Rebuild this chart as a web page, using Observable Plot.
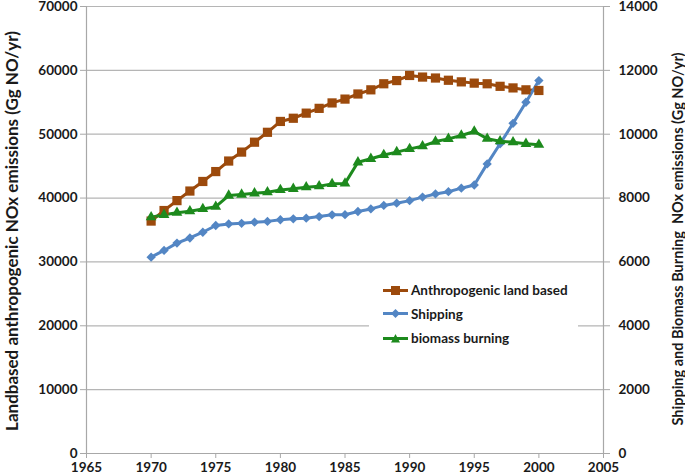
<!DOCTYPE html>
<html><head><meta charset="utf-8">
<script src="https://cdn.jsdelivr.net/npm/d3@7"></script>
<script src="https://cdn.jsdelivr.net/npm/@observablehq/plot@0.6"></script>
<style>
body{margin:0;background:#fff;}
#wrap{position:relative;width:685px;height:476px;font-family:Lato,sans-serif;}
#wrap svg{overflow:visible;}
#legend{position:absolute;left:369px;top:281px;width:209px;height:85px;background:#fff;}
.row{position:absolute;left:14px;height:20px;display:flex;align-items:center;font-weight:bold;font-size:13.5px;color:#1a1a1a;white-space:nowrap;}
.row svg{margin-right:3px;}
</style></head><body><div id="wrap"></div>
<script>
const years = [1970,1971,1972,1973,1974,1975,1976,1977,1978,1979,1980,1981,1982,1983,1984,1985,1986,1987,1988,1989,1990,1991,1992,1993,1994,1995,1996,1997,1998,1999,2000];
const anthropogenic = [36400,38050,39600,41100,42600,44150,45800,47200,48750,50300,52000,52500,53300,54050,54900,55500,56300,56950,57900,58400,59200,58950,58800,58450,58200,58000,57900,57500,57250,56950,56850];
const shipping = [6150,6360,6590,6750,6930,7140,7190,7210,7245,7270,7320,7350,7370,7420,7475,7480,7580,7660,7770,7840,7920,8030,8130,8200,8310,8410,9070,9700,10340,11000,11680];
const biomass = [7400,7475,7540,7590,7660,7730,8080,8110,8150,8185,8255,8290,8340,8370,8445,8460,9120,9230,9350,9440,9540,9625,9770,9855,9960,10085,9860,9780,9750,9700,9670];
const seriesNames = ["Anthropogenic land based","Shipping","biomass burning"];
const colors = ["#9c4a0c","#5386c4","#1d8a1d"];
const symbols = ["square","diamond2","triangle"];
const leftTicks = [0,10000,20000,30000,40000,50000,60000,70000];
const rightTicks = [0,2000,4000,6000,8000,10000,12000,14000];
const xTicks = [1965,1970,1975,1980,1985,1990,1995,2000,2005];
const leftTitle = "Landbased anthropogenic NOx emissions (Gg NO/yr)";
const rightTitle = "Shipping and Biomass Burning\u00a0 NOx emissions (Gg NO/yr)";

const ratio = leftTicks[leftTicks.length-1] / rightTicks[rightTicks.length-1];
const rows = [];
years.forEach((yr,i)=>{
  rows.push({year:yr, series:seriesNames[0], v:anthropogenic[i]});
  rows.push({year:yr, series:seriesNames[1], v:shipping[i]*ratio});
  rows.push({year:yr, series:seriesNames[2], v:biomass[i]*ratio});
});
const gray = "#a8a8a8";
const plot = Plot.plot({
  width:685, height:476,
  marginLeft:86, marginRight:82, marginTop:6, marginBottom:23,
  style:{fontFamily:"Lato, sans-serif", fontSize:"13.5px", fontWeight:"bold", color:"#1a1a1a", background:"#fff", overflow:"visible"},
  x:{domain:[1965,2005]},
  y:{domain:[0,70000]},
  color:{domain:seriesNames, range:colors},
  marks:[
    Plot.gridY(leftTicks,{stroke:"#b5b5b5", strokeOpacity:1, strokeWidth:1.2}),
    Plot.ruleX([xTicks[0], xTicks[xTicks.length-1]],{stroke:gray, strokeWidth:1.2}),
    Plot.ruleY([0],{stroke:gray, strokeWidth:1.2}),
    Plot.axisX(xTicks,{tickFormat:d=>String(d), tickSize:5, tickPadding:4, stroke:gray, fill:"#1a1a1a", label:null}),
    Plot.axisY(leftTicks,{anchor:"left", tickFormat:d=>String(d), tickSize:6, tickPadding:3, stroke:gray, fill:"#1a1a1a", label:null}),
    Plot.axisY(rightTicks.map(d=>d*ratio),{anchor:"right", tickFormat:d=>String(Math.round(d/ratio)), tickSize:6, tickPadding:9, stroke:gray, fill:"#1a1a1a", label:null}),
    Plot.line(rows,{x:"year", y:"v", z:"series", stroke:"series", strokeWidth:3}),
    ...seriesNames.map((s,k)=>Plot.dot(rows.filter(d=>d.series===s),{x:"year", y:"v", fill:colors[k], symbol:()=>symbols[k], r:[5.2,4.2,4][k], stroke:null})),
    Plot.text([leftTitle],{frameAnchor:"left", textAnchor:"middle", rotate:-90, dx:-74, dy:1, fontSize:17, fontWeight:"bold", fill:"#1a1a1a"}),
    Plot.text([rightTitle],{frameAnchor:"right", textAnchor:"middle", rotate:-90, dx:75, dy:9, fontSize:14.5, fontWeight:"bold", fill:"#1a1a1a"})
  ]
});
const wrap = document.getElementById("wrap");
wrap.appendChild(plot);
const legend = document.createElement("div");
legend.id = "legend";
const shapes = [
  '<rect x="8" y="5" width="9" height="9"/>',
  '<path d="M12.5 5 L17 9.5 L12.5 14 L8 9.5Z"/>',
  '<path d="M12.5 5 L17 13.5 L8 13.5Z"/>'
];
const tops = [9, 32.5, 57];
seriesNames.forEach((s,k)=>{
  const r = document.createElement("div");
  r.className = "row";
  r.style.top = (tops[k]-10)+"px";
  r.innerHTML = `<svg width="25" height="19"><line x1="0" x2="25" y1="9.5" y2="9.5" stroke="${colors[k]}" stroke-width="3"/><g fill="${colors[k]}">${shapes[k]}</g></svg><span>${s}</span>`;
  legend.appendChild(r);
});
wrap.appendChild(legend);
</script>
</body></html>
